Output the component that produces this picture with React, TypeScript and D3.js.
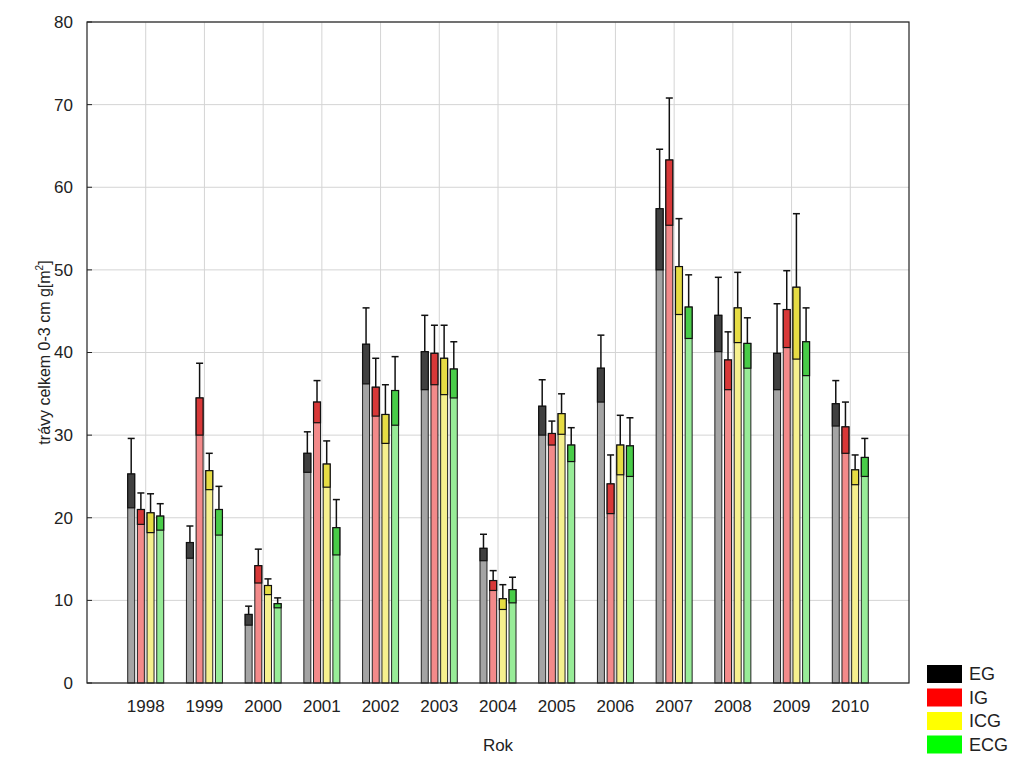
import React from 'react';
import * as d3 from 'd3';

const years = ['1998', '1999', '2000', '2001', '2002', '2003', '2004', '2005', '2006', '2007', '2008', '2009', '2010'];
const groups = ['EG', 'IG', 'ICG', 'ECG'];

// mean (bar top), lower box edge, upper whisker
const egMean = [25.3, 17.0, 8.3, 27.8, 41.0, 40.1, 16.3, 33.5, 38.1, 57.4, 44.5, 39.9, 33.8];
const egLow = [21.2, 15.1, 7.0, 25.5, 36.2, 35.5, 14.8, 30.0, 34.0, 50.0, 40.1, 35.5, 31.1];
const egHigh = [29.6, 19.0, 9.3, 30.4, 45.4, 44.5, 18.0, 36.7, 42.1, 64.6, 49.1, 45.9, 36.6];

const igMean = [21.0, 34.5, 14.2, 34.0, 35.8, 39.9, 12.4, 30.2, 24.1, 63.3, 39.1, 45.2, 31.0];
const igLow = [19.2, 30.0, 12.1, 31.5, 32.3, 36.1, 11.2, 28.8, 20.5, 55.4, 35.5, 40.6, 27.8];
const igHigh = [23.0, 38.7, 16.2, 36.6, 39.3, 43.3, 13.6, 31.7, 27.6, 70.8, 42.5, 49.9, 34.0];

const icgMean = [20.6, 25.7, 11.8, 26.5, 32.5, 39.3, 10.2, 32.6, 28.8, 50.4, 45.4, 47.9, 25.8];
const icgLow = [18.2, 23.4, 10.7, 23.7, 29.0, 34.9, 8.9, 30.1, 25.2, 44.6, 41.2, 39.2, 24.0];
const icgHigh = [22.9, 27.8, 12.6, 29.3, 36.1, 43.3, 11.9, 35.0, 32.4, 56.2, 49.7, 56.8, 27.6];

const ecgMean = [20.2, 21.0, 9.6, 18.8, 35.4, 38.0, 11.3, 28.8, 28.7, 45.5, 41.1, 41.3, 27.3];
const ecgLow = [18.5, 17.9, 9.1, 15.5, 31.2, 34.5, 9.7, 26.8, 25.0, 41.7, 38.1, 37.2, 25.0];
const ecgHigh = [21.7, 23.8, 10.3, 22.2, 39.5, 41.3, 12.8, 30.9, 32.1, 49.4, 44.2, 45.4, 29.6];

const yTicks = [0, 10, 20, 30, 40, 50, 60, 70, 80];

const series = [
  { key: 'EG', mean: egMean, low: egLow, high: egHigh, light: '#a4a4a4', dark: '#404040', legend: '#000000' },
  { key: 'IG', mean: igMean, low: igLow, high: igHigh, light: '#f38a8a', dark: '#d83838', legend: '#ff0000' },
  { key: 'ICG', mean: icgMean, low: icgLow, high: icgHigh, light: '#f6f08e', dark: '#e6dc44', legend: '#ffff00' },
  { key: 'ECG', mean: ecgMean, low: ecgLow, high: ecgHigh, light: '#98ec98', dark: '#48cc48', legend: '#00ff00' },
];

const left = 87;
const right = 909;
const top = 22;
const bottom = 683;
const font = 'Liberation Sans, Arial, sans-serif';

export default function App() {
  const x0 = d3.scalePoint<string>().domain(years).range([left, right]).padding(1);
  const x1 = d3.scaleBand<string>().domain(groups).range([-18, 18]).paddingInner(0.28);
  const y = d3.scaleLinear().domain([0, 80]).range([bottom, top]);
  const bw = x1.bandwidth();

  return (
    <svg width={1017} height={760} style={{ position: 'absolute', left: 0, top: 0, background: '#fff' }}>
      {/* grid */}
      {yTicks.map(t => (
        <line key={'gy' + t} x1={left} x2={right} y1={y(t)} y2={y(t)} stroke="#d4d4d4" strokeWidth={1} />
      ))}
      {years.map(yr => (
        <line key={'gx' + yr} x1={x0(yr)} x2={x0(yr)} y1={top} y2={bottom} stroke="#d4d4d4" strokeWidth={1} />
      ))}

      {/* bars */}
      {series.map(s => years.map((yr, i) => {
        const bx = (x0(yr) as number) + (x1(s.key) as number);
        const cx = bx + bw / 2;
        return (
          <g key={s.key + yr}>
            <rect x={bx} y={y(s.mean[i])} width={bw} height={bottom - y(s.mean[i])} fill={s.light} stroke="#222" strokeWidth={1} />
            <rect x={bx} y={y(s.mean[i])} width={bw} height={y(s.low[i]) - y(s.mean[i])} fill={s.dark} stroke="#111" strokeWidth={1.2} />
            <line x1={cx} x2={cx} y1={y(s.mean[i])} y2={y(s.high[i])} stroke="#111" strokeWidth={1.5} />
            <line x1={cx - 3.5} x2={cx + 3.5} y1={y(s.high[i])} y2={y(s.high[i])} stroke="#111" strokeWidth={1.5} />
          </g>
        );
      }))}

      {/* frame */}
      <rect x={left} y={top} width={right - left} height={bottom - top} fill="none" stroke="#222" strokeWidth={1.2} />

      {/* y axis */}
      {yTicks.map(t => (
        <g key={'yt' + t}>
          <line x1={left} x2={left + 5} y1={y(t)} y2={y(t)} stroke="#222" />
          <text x={left - 14} y={y(t)} dy="0.35em" textAnchor="end" fontFamily={font} fontSize={17} fill="#222">{t}</text>
        </g>
      ))}
      {years.map(yr => (
        <text key={'xt' + yr} x={x0(yr)} y={712} textAnchor="middle" fontFamily={font} fontSize={17} fill="#222">{yr}</text>
      ))}
      <text x={(left + right) / 2} y={751} textAnchor="middle" fontFamily={font} fontSize={17} fill="#222">Rok</text>
      <text transform={`translate(50,${(top + bottom) / 2}) rotate(-90)`} textAnchor="middle" fontFamily={font} fontSize={16} fill="#222">
        trávy celkem 0-3 cm g[m<tspan fontSize={10} dy={-7}>2</tspan><tspan dy={7}>]</tspan>
      </text>

      {/* legend */}
      {series.map((s, i) => (
        <g key={'lg' + s.key} transform={`translate(927,${665 + i * 23.5})`}>
          <rect x={0} y={0} width={35} height={18} fill={s.legend} />
          <text x={42} y={9} dy="0.35em" fontFamily={font} fontSize={18} fill="#222">{s.key}</text>
        </g>
      ))}
    </svg>
  );
}
